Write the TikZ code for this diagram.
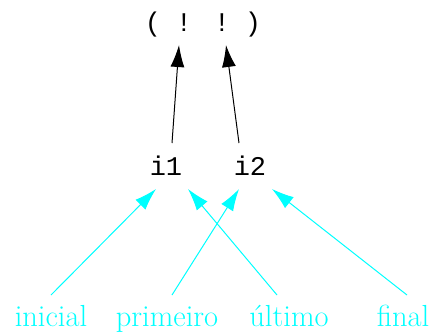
\documentclass[tikz,border=0pt]{standalone}
\usepackage{fontspec}
\newfontfamily\monofam{Liberation Mono}
\usetikzlibrary{arrows.meta,calc}
\definecolor{pcyan}{RGB}{0,255,255}
\begin{document}
\begin{tikzpicture}[x=1pt,y=-1pt,
  mono/.style={inner sep=0pt,anchor=base,font=\monofam\fontsize{27}{30}\selectfont},
  lab/.style={inner sep=0pt,anchor=base,text=pcyan,font=\fontsize{30.5}{33}\selectfont},
  blk/.style={line width=1pt,-{Latex[length=22pt,width=14pt]}},
  cy/.style={pcyan,line width=1pt,-{Latex[length=22pt,width=14pt]}}]
\useasboundingbox (0,0) rectangle (434,333);
\node[mono] (lp) at (153,31) {(};
\node[mono] (b1) at (184,31) {!};
\node[mono] (b2) at (222,31) {!};
\node[mono] (rp) at (253,31) {)};
\node[mono] (i1) at (166,175) {i1};
\node[mono] (i2) at (250,175) {i2};
\node[lab] (inicial) at (51,326) {inicial};
\node[lab] (primeiro) at (167,326) {primeiro};
\node[lab] (ultimo) at (289,326) {último};
\node[lab] (final) at (403,326) {final};
\draw[blk] ($(i1.base)+(6,-32)$) -- ($(b1.base)+(-5,14)$);
\draw[blk] ($(i2.base)+(-11,-32)$) -- ($(b2.base)+(4,14)$);
\draw[cy] ($(inicial.base)+(0,-31)$) -- ($(i1.base)+(-10,14)$);
\draw[cy] ($(ultimo.base)+(-12,-31)$) -- ($(i1.base)+(22,14)$);
\draw[cy] ($(primeiro.base)+(5,-31)$) -- ($(i2.base)+(-11,14)$);
\draw[cy] ($(final.base)+(4,-31)$) -- ($(i2.base)+(22,14)$);
\end{tikzpicture}
\end{document}
